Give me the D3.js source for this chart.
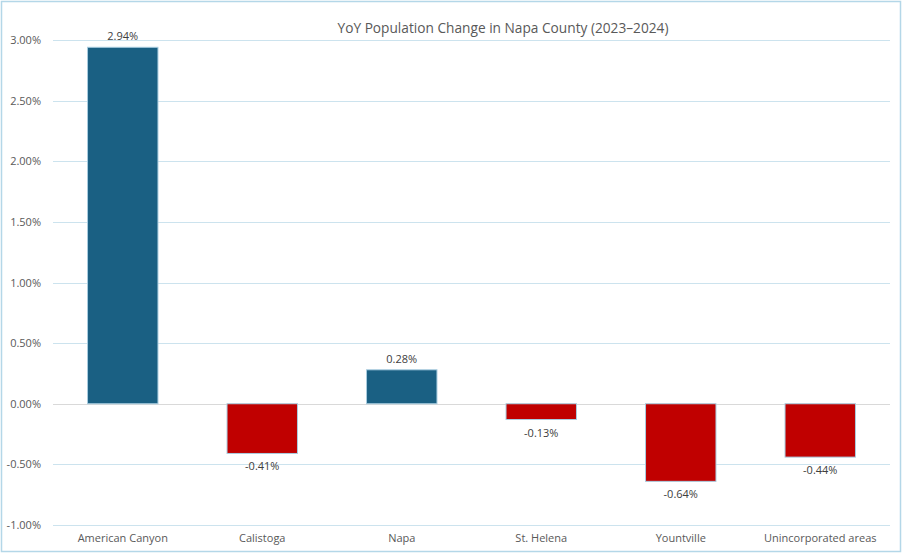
<!DOCTYPE html>
<html>
<head>
<meta charset="utf-8">
<script src="https://cdn.jsdelivr.net/npm/d3@7"></script>
<style>
  body { margin: 0; background: #fff; }
  text { font-family: "Open Sans", "Liberation Sans", sans-serif; }
</style>
</head>
<body>
<svg id="chart" width="903" height="555"></svg>
<script>
// Data
var places = ["American Canyon", "Calistoga", "Napa", "St. Helena", "Yountville", "Unincorporated areas"];
var changes = [2.94, -0.41, 0.28, -0.13, -0.64, -0.44];
var yTicks = [-1.0, -0.5, 0.0, 0.5, 1.0, 1.5, 2.0, 2.5, 3.0];

// percent with a plain hyphen for negatives, like the original
function pct(d) {
    return d3.format(".2f")(d).replace("\u2212", "-") + "%";
}

var svg = d3.select("#chart");

// outer chart border
svg.append("rect")
    .attr("x", 1.5).attr("y", 1.5)
    .attr("width", 899).attr("height", 550)
    .attr("fill", "#fff")
    .attr("stroke", "#b4d7e8")
    .attr("stroke-width", 1.5);

var plotLeft = 53, plotRight = 890, plotTop = 40, plotBottom = 525;

var x = d3.scaleBand()
    .domain(places)
    .range([plotLeft, plotRight])
    .paddingInner(0.495)
    .paddingOuter(0.2475);

var y = d3.scaleLinear()
    .domain([-1, 3])
    .range([plotBottom, plotTop]);

// gridlines
svg.append("g").selectAll("line")
    .data(yTicks)
    .enter()
    .append("line")
    .attr("x1", plotLeft).attr("x2", plotRight)
    .attr("y1", function(d) { return Math.round(y(d)) + 0.5; })
    .attr("y2", function(d) { return Math.round(y(d)) + 0.5; })
    .attr("stroke", function(d) { return d === 0 ? "#d9d9d9" : "#cce3ee"; })
    .attr("stroke-width", 1);

// y axis labels
var yAxis = d3.axisLeft(y)
    .tickValues(yTicks)
    .tickSize(0)
    .tickPadding(0)
    .tickFormat(pct);

var yg = svg.append("g")
    .attr("transform", "translate(41,0)")
    .call(yAxis);
yg.select(".domain").remove();
yg.selectAll("text")
    .attr("fill", "#595959")
    .style("font-size", "11px");

// bars
svg.append("g").selectAll("rect")
    .data(changes)
    .enter()
    .append("rect")
    .attr("x", function(d, i) { return x(places[i]); })
    .attr("width", x.bandwidth())
    .attr("y", function(d) { return y(Math.max(0, d)); })
    .attr("height", function(d) { return Math.abs(y(d) - y(0)); })
    .attr("fill", function(d) { return d >= 0 ? "#1a6083" : "#c00000"; })
    .attr("stroke", "#a9cde0")
    .attr("stroke-width", 1);

// value labels
svg.append("g").selectAll("text")
    .data(changes)
    .enter()
    .append("text")
    .attr("x", function(d, i) { return x(places[i]) + x.bandwidth() / 2; })
    .attr("y", function(d) { return d >= 0 ? y(d) - 7 : y(d) + 17; })
    .attr("text-anchor", "middle")
    .attr("fill", "#404040")
    .style("font-size", "11px")
    .text(pct);

// category labels
var xAxis = d3.axisBottom(x).tickSize(0).tickPadding(0);
var xg = svg.append("g")
    .attr("transform", "translate(0,534)")
    .call(xAxis);
xg.select(".domain").remove();
xg.selectAll("text")
    .attr("fill", "#595959")
    .style("font-size", "11px");

// title
svg.append("text")
    .attr("x", 503)
    .attr("y", 33)
    .attr("text-anchor", "middle")
    .attr("fill", "#595959")
    .style("font-size", "13.7px")
    .text("YoY Population Change in Napa County (2023\u20132024)");
</script>
</body>
</html>
